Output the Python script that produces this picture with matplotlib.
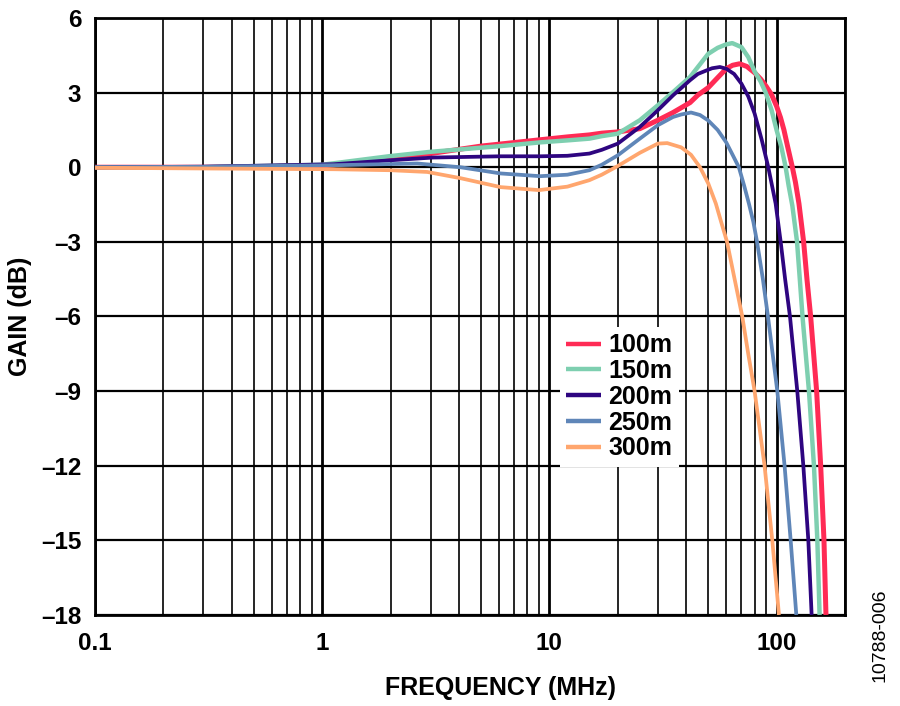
import matplotlib
matplotlib.use("Agg")
import matplotlib.pyplot as plt
from matplotlib.ticker import LogLocator, FixedLocator, FixedFormatter, NullFormatter

plt.rcParams["font.family"] = ["Liberation Sans", "DejaVu Sans"]
plt.rcParams["font.weight"] = "bold"

# Gain vs frequency for several cable lengths
FREQ_100 = [0.1, 0.3, 1, 2, 3, 5, 9, 12, 15, 17, 20, 25, 30, 35, 41.6, 45, 50,
            55, 60, 64, 68.7, 74, 80, 85, 90, 95, 100, 104, 107.7, 112, 117.3,
            121, 125.4, 131.5, 136, 141.2, 150, 156.3, 161.6, 164.9]
GAIN_100 = [0, 0, 0.05, 0.35, 0.55, 0.85, 1.1, 1.22, 1.3, 1.37, 1.42, 1.55,
            1.89, 2.2, 2.6, 2.9, 3.2, 3.6, 3.96, 4.1, 4.16, 4.05, 3.8, 3.55,
            3.25, 2.92, 2.45, 2.0, 1.5, 0.8, 0, -0.6, -1.46, -3, -4.5, -6, -9,
            -12, -15, -18]

FREQ_150 = [0.1, 0.3, 1, 2, 3, 6.1, 9.1, 12, 15, 17, 20, 25, 30, 35, 41.6, 50,
            55, 60, 63.8, 70, 75, 80, 85, 89.5, 95, 100, 105, 109.6, 113, 117.3,
            123, 126.5, 130, 138.8, 146, 151.1, 154.6]
GAIN_150 = [0, 0, 0.1, 0.45, 0.62, 0.85, 1.0, 1.08, 1.15, 1.25, 1.35, 1.89,
            2.49, 3.02, 3.63, 4.56, 4.8, 4.94, 4.99, 4.83, 4.43, 3.85, 3.45,
            3.0, 2.3, 1.49, 0.8, 0, -0.75, -1.55, -3, -4.5, -6, -9, -12, -15, -18]

FREQ_200 = [0.1, 0.3, 1.12, 2, 3.08, 6.1, 9.1, 12, 15, 17, 20, 25, 30, 35, 41.6,
            45, 50, 52, 56.3, 60, 65, 70, 75, 80, 86, 91.9, 95.5, 99, 104.2, 109,
            114.5, 123.3, 131.1, 137.9, 142.6]
GAIN_200 = [0, 0.02, 0.12, 0.28, 0.39, 0.44, 0.44, 0.46, 0.55, 0.7, 0.95, 1.62,
            2.29, 2.89, 3.5, 3.75, 3.92, 3.98, 4.03, 3.96, 3.75, 3.36, 2.85,
            2.16, 1.1, 0, -0.75, -1.46, -3, -4.5, -6, -9, -12, -15, -18]

FREQ_250 = [0.1, 0.3, 1.12, 2.62, 4.06, 6.1, 9.1, 12, 15, 17, 20, 25, 30, 35, 38,
            42, 46, 50, 55, 60, 64, 68.2, 72, 75.5, 79, 82, 87, 91.6, 100.7,
            108.4, 115.3, 122.1]
GAIN_250 = [0, 0.02, 0.08, 0.15, 0.0, -0.25, -0.36, -0.3, -0.12, 0.1, 0.48,
            1.15, 1.69, 2.02, 2.12, 2.2, 2.1, 1.88, 1.5, 1.0, 0.5, 0, -0.75,
            -1.46, -2.2, -3, -4.5, -6, -9, -12, -15, -18]

FREQ_300 = [0.1, 0.3, 1.12, 2, 2.9, 4.06, 6.1, 9, 12, 15, 17, 20, 25, 30, 33, 38,
            42, 46, 50, 54, 57, 60.5, 65, 70.6, 75, 80, 88.5, 95.7, 102.4]
GAIN_300 = [-0.02, -0.05, -0.08, -0.12, -0.19, -0.44, -0.8, -0.92, -0.78, -0.52,
            -0.3, 0.05, 0.58, 0.95, 0.97, 0.8, 0.5, 0, -0.65, -1.46, -2.2, -3,
            -4.4, -6, -7.5, -9, -12, -15, -18]

SERIES = [
    ("100m", FREQ_100, GAIN_100, "#FF2B55", 3.6),
    ("150m", FREQ_150, GAIN_150, "#7ECFB0", 3.2),
    ("200m", FREQ_200, GAIN_200, "#2E0580", 2.7),
    ("250m", FREQ_250, GAIN_250, "#5F86B8", 2.7),
    ("300m", FREQ_300, GAIN_300, "#FFA66E", 2.7),
]

X_TICKS = [0.1, 1, 10, 100]
X_TICK_LABELS = ["0.1", "1", "10", "100"]
Y_TICKS = [-18, -15, -12, -9, -6, -3, 0, 3, 6]
Y_TICK_LABELS = ["\u201318", "\u201315", "\u201312", "\u20139", "\u20136",
                 "\u20133", "0", "3", "6"]

fig = plt.figure(figsize=(9, 7.06), dpi=100)
ax = fig.add_axes([0.1056, 0.129, 0.8333, 0.8455])

for name, f, g, c, lw in SERIES:
    ax.plot(f, g, color=c, linewidth=lw, label=name, solid_capstyle="butt",
            solid_joinstyle="round", zorder=3)

ax.set_xscale("log")
ax.set_xlim(0.1, 200)
ax.set_ylim(-18, 6)

ax.xaxis.set_major_locator(FixedLocator(X_TICKS))
ax.xaxis.set_major_formatter(FixedFormatter(X_TICK_LABELS))
ax.xaxis.set_minor_locator(LogLocator(base=10, subs=range(2, 10), numticks=20))
ax.xaxis.set_minor_formatter(NullFormatter())
ax.yaxis.set_major_locator(FixedLocator(Y_TICKS))
ax.yaxis.set_major_formatter(FixedFormatter(Y_TICK_LABELS))

ax.grid(True, which="major", axis="x", color="black", linewidth=2.0, zorder=1)
ax.grid(True, which="minor", axis="x", color="black", linewidth=1.2, zorder=1)
ax.grid(True, which="major", axis="y", color="black", linewidth=1.6, zorder=1)
ax.set_axisbelow(True)

ax.tick_params(axis="both", which="both", length=0, labelsize=17.5)
ax.tick_params(axis="x", pad=12)
ax.tick_params(axis="y", pad=10)

for sp in ax.spines.values():
    sp.set_linewidth(2)
    sp.set_color("black")

ax.set_xlabel("FREQUENCY (MHz)", fontsize=18, fontweight="bold")
ax.xaxis.set_label_coords(0.54, -0.103)
ax.set_ylabel("GAIN (dB)", fontsize=18, fontweight="bold", labelpad=6)

leg = ax.legend(loc="upper left", bbox_to_anchor=(0.62, 0.482),
                borderaxespad=0, frameon=True, fancybox=False,
                prop={"size": 18, "weight": "bold"}, handlelength=1.4,
                handletextpad=0.28, labelspacing=0.07, borderpad=0.25)
leg.get_frame().set_facecolor("white")
leg.get_frame().set_edgecolor("none")
leg.get_frame().set_alpha(1)
leg.set_zorder(5)
for line in leg.get_lines():
    line.set_linewidth(3.2)

fig.text(0.978, 0.10, "10788-006", rotation=90, fontsize=14,
         fontweight="normal", ha="center", va="center")

fig.savefig("out.png", dpi=100)
